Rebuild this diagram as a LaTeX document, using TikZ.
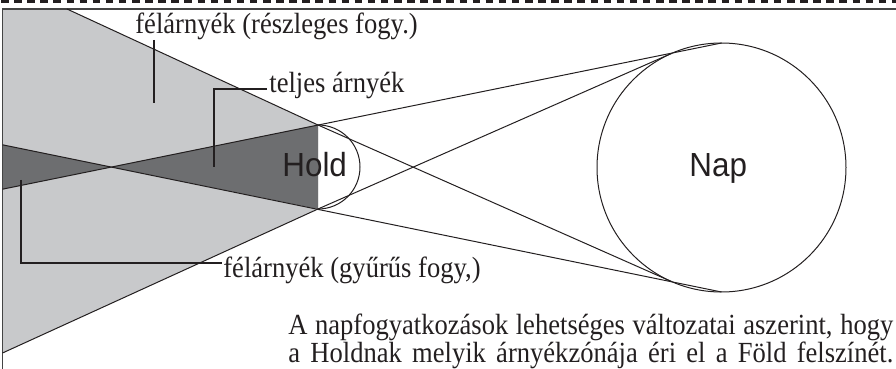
\documentclass[tikz,border=0pt]{standalone}
\usepackage{fontspec}
\setmainfont{Liberation Serif}[FakeStretch=0.91]
\newfontfamily\sansf{Liberation Sans}[FakeStretch=0.94]
\definecolor{ink}{HTML}{231F20}
\definecolor{pen}{HTML}{C8C9CB}
\definecolor{umb}{HTML}{6D6E70}
\definecolor{frame}{HTML}{444444}
\begin{document}
\begin{tikzpicture}[x=0.5pt,y=-0.5pt,
  thinline/.style={line width=0.5pt, draw=ink},
  leader/.style={line width=1.15pt, draw=ink},
  lbl/.style={inner sep=0pt, anchor=base west, text=ink, font=\fontsize{14.6}{15}\selectfont},
  body/.style={inner sep=0pt, anchor=base west, text=ink, font=\sansf\fontsize{16.7}{17}\selectfont}]
\useasboundingbox (0,0) rectangle (896,369);
% key points
\coordinate (TL) at (2.5,9);
\coordinate (BL) at (2.5,369);
\coordinate (TR) at (896,9);
\coordinate (P1) at (67,9);
\coordinate (P2) at (2.5,353);
\coordinate (MT) at (318,125);
\coordinate (MB) at (318,209);
\coordinate (AP) at (111.3,167);
\coordinate (OUL) at (2.5,189.2);
\coordinate (OLL) at (2.5,144.8);
\coordinate (ST) at (721.5,43);
\coordinate (SB) at (721.5,292);
\coordinate (STi) at (671.4,53.5);
\coordinate (SBi) at (671.4,281.5);
% fills
\fill[pen] (TL) -- (P1) -- (MT) -- (MB) -- (P2) -- cycle;
\fill[umb] (MT) -- (AP) -- (MB) -- cycle;
\fill[umb] (AP) -- (OLL) -- (OUL) -- cycle;
% frame
\draw[line width=0.75pt, frame] (BL) -- (TL) -- (TR);
\coordinate (DL) at (0,1.5);
\coordinate (DR) at (896,1.5);
\draw[line width=1.5pt, ink, dash pattern=on 3.75pt off 2.8pt, dash phase=-0.5pt] (DL) -- (DR);
% sun
\node[circle, draw=ink, line width=0.5pt, minimum size=124.5pt, inner sep=0pt] (sun) at (721.5,167.5) {};
% rays
\draw[thinline] (OUL) -- (ST);
\draw[thinline] (OLL) -- (SB);
\draw[thinline] (P1) -- (MT) -- (SBi);
\draw[thinline] (P2) -- (MB) -- (STi);
% moon
\draw[thinline] (MT) arc[start angle=90, end angle=-90, radius=21pt];
% labels
\node[body] (hold) at (282,177) {Hold};
\node[body] (nap) at (689,177) {Nap};
\node[lbl] (pen1) at (135,34) {félárnyék (részleges fogy.)};
\node[lbl] (umbl) at (269,93) {teljes árnyék};
\node[lbl] (pen2) at (223,278) {félárnyék (gyűrűs fogy,)};
\node[lbl] (cap1) at (288,335) {\makebox[302.5pt][s]{A napfogyatkozások lehetséges változatai aszerint, hogy}};
\node[lbl] (cap2) at (288,363) {\makebox[302.5pt][s]{a Holdnak melyik árnyékzónája éri el a Föld felszínét.}};
% leaders
\coordinate (l1a) at (154,40);
\coordinate (l1b) at (154,103);
\draw[leader] (l1a) -- (l1b);
\coordinate (l2a) at (267,89);
\coordinate (l2b) at (214,89);
\coordinate (l2c) at (214,167);
\draw[leader] (l2a) -- (l2b) -- (l2c);
\coordinate (l3a) at (21,180);
\coordinate (l3b) at (21,263);
\coordinate (l3c) at (222,263);
\draw[leader] (l3a) -- (l3b) -- (l3c);
\end{tikzpicture}
\end{document}
